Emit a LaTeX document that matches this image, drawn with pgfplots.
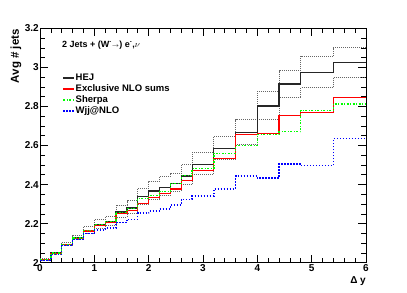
\documentclass[border=0pt]{standalone}
\usepackage{fontspec}
\setmainfont{Liberation Sans}
\usepackage{pgfplots}
\pgfplotsset{compat=1.18}
\usepackage{pgfplotstable}

\pgfplotstableread{
x hej up lo red green blue
0.0 2.018 2.022 2.014 2.017 2.017 2.012
0.2 2.050 2.055 2.045 2.049 2.049 2.043
0.4 2.095 2.105 2.088 2.092 2.094 2.088
0.6 2.128 2.142 2.118 2.125 2.127 2.118
0.8 2.165 2.185 2.150 2.162 2.165 2.148
1.0 2.197 2.222 2.178 2.192 2.195 2.168
1.2 2.212 2.237 2.190 2.207 2.212 2.178
1.4 2.260 2.295 2.232 2.250 2.258 2.205
1.6 2.280 2.318 2.250 2.267 2.276 2.222
1.8 2.338 2.380 2.300 2.305 2.328 2.255
2.0 2.367 2.418 2.325 2.332 2.345 2.265
2.2 2.385 2.440 2.343 2.353 2.365 2.275
2.4 2.406 2.455 2.365 2.377 2.404 2.295
2.6 2.444 2.503 2.400 2.420 2.445 2.325
2.8 2.502 2.565 2.452 2.470 2.482 2.342
3.2 2.586 2.645 2.531 2.535 2.560 2.377
3.6 2.668 2.733 2.605 2.655 2.600 2.444
4.0 2.802 2.877 2.734 2.663 2.655 2.433
4.4 2.915 2.983 2.845 2.752 2.670 2.505
4.8 2.973 3.056 2.896 2.769 2.778 2.497
5.4 3.023 3.101 2.948 2.845 2.812 2.635
6.0 3.023 3.101 2.948 2.845 2.812 2.635
}\data

\begin{document}
\begin{tikzpicture}[x=1pt,y=1pt]
\path[use as bounding box] (0,0) rectangle (407,292);
\begin{axis}[
  at={(40pt,29.3pt)}, anchor=south west,
  scale only axis, width=326pt, height=234.4pt,
  xmin=0, xmax=6, ymin=2, ymax=3.2,
  xtick={0,1,2,3,4,5,6}, minor x tick num=4,
  ytick={2,2.2,2.4,2.6,2.8,3,3.2}, minor y tick num=3,
  major tick length=8pt, minor tick length=4.5pt,
  tick style={black, line width=0.6pt},
  axis line style={line width=0.9pt},
  ticklabel style={font=\bfseries\fontsize{10}{12}\selectfont},
  yticklabel style={inner xsep=1pt},
  xticklabel style={inner ysep=1.5pt},
  /pgf/number format/assume math mode=true,
  const plot mark left,
  legend style={at={(0.068,0.812)}, anchor=north west, draw=none, fill=none,
    inner sep=0pt, font=\bfseries\fontsize{9.5}{11}\selectfont,
    nodes={inner sep=1pt, text height=7pt, text depth=2pt}, row sep=0pt},
  legend cell align=left,
  legend image code/.code={\draw[#1] (0pt,0pt) -- (11pt,0pt);},
]
\addplot[forget plot, black!60, line width=0.8pt, dash pattern=on 1pt off 1pt] table[x=x,y=up] {\data};
\addplot[forget plot, black!60, line width=0.8pt, dash pattern=on 1pt off 1pt] table[x=x,y=lo] {\data};
\addplot[black!85, line width=1.2pt] table[x=x,y=hej] {\data};
\addlegendentry{HEJ}
\addplot[red, line width=1.2pt] table[x=x,y=red] {\data};
\addlegendentry{Exclusive NLO sums}
\addplot[green, line width=1.3pt, dash pattern=on 2pt off 1.5pt on 1pt off 1.5pt] table[x=x,y=green] {\data};
\addlegendentry{Sherpa}
\addplot[blue, line width=1.3pt, dash pattern=on 1.5pt off 1.5pt] table[x=x,y=blue] {\data};
\addlegendentry{Wjj@NLO}
\end{axis}
\node[anchor=west, font=\bfseries\fontsize{9}{10}\selectfont, inner sep=0pt] at (62,247) {2 Jets + (W\textsuperscript{-}$\scriptstyle\rightarrow$) e\textsuperscript{-},$\nu$};
\node[rotate=90, anchor=east, font=\bfseries\fontsize{11.5}{13}\selectfont, inner sep=0pt] at (16,263) {Avg \# jets};
\node[anchor=east, font=\bfseries\fontsize{10}{12}\selectfont, inner sep=0pt] at (366,11) {Δ y};
\end{tikzpicture}
\end{document}
